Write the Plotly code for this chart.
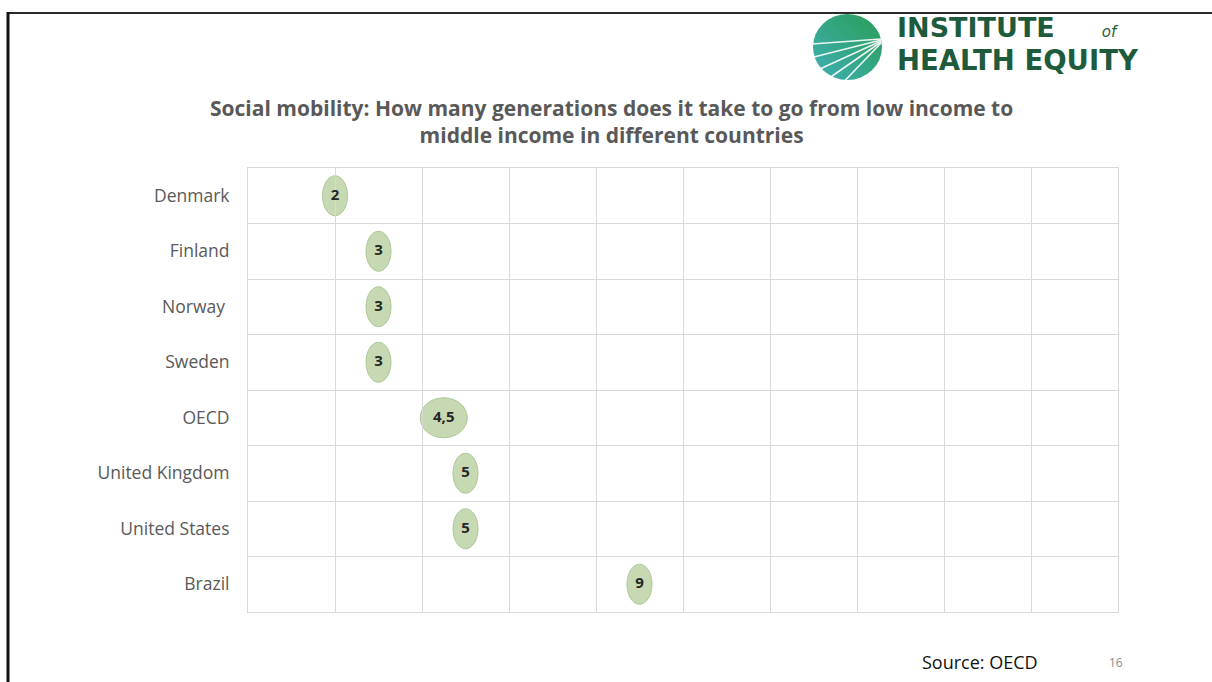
import base64
import plotly.graph_objects as go

# Generations needed to move from low to middle income
countries = ["Denmark", "Finland", "Norway ", "Sweden", "OECD",
             "United Kingdom", "United States", "Brazil"]
generations = [2, 3, 3, 3, 4.5, 5, 5, 9]
x_ticks = [0, 2, 4, 6, 8, 10, 12, 14, 16, 18, 20]

W, H = 1212, 682
L, R, T, B = 248, 94, 168, 70
PW, PH = W - L - R, H - T - B
FONT = "Open Sans"


def px(x):
    return (x - L) / PW


def py(y):
    return (H - B - y) / PH


def fmt(v):
    return f"{v:g}".replace(".", ",")


labels = [fmt(v) for v in generations]

fig = go.Figure()

fig.add_trace(go.Scatter(
    x=generations, y=countries, mode="text", text=labels,
    textfont=dict(family=FONT, size=15, color="#262626", weight="bold"),
    textposition="middle center", hoverinfo="skip", showlegend=False,
))

# Oval bubbles behind each value label, sized in pixels around the data point
shapes = []
for i, (v, lab) in enumerate(zip(generations, labels)):
    half_w = 12.5 + 5.5 * (len(lab) - 1)
    shapes.append(dict(
        type="circle", layer="below",
        xref="x", yref="y", xsizemode="pixel", ysizemode="pixel",
        xanchor=v, yanchor=i,
        x0=-half_w, x1=half_w, y0=-20, y1=20,
        fillcolor="#c6d9b3", line=dict(color="#aec799", width=1),
    ))

# Slide frame: top rule and left edge
shapes.append(dict(type="line", xref="paper", yref="paper",
                   x0=px(7), x1=px(W), y0=py(13), y1=py(13),
                   line=dict(color="#2b2b2b", width=2)))
shapes.append(dict(type="line", xref="paper", yref="paper",
                   x0=px(8), x1=px(8), y0=py(12), y1=py(H + 2),
                   line=dict(color="#111111", width=3)))

# Logo emblem as an inline SVG
svg = """<svg xmlns='http://www.w3.org/2000/svg' width='72' height='68' viewBox='0 0 72 68'>
<defs><linearGradient id='g' x1='0' y1='1' x2='1' y2='0'>
<stop offset='0' stop-color='#3fb0b6'/><stop offset='1' stop-color='#2a9d55'/>
</linearGradient></defs>
<ellipse cx='36' cy='34' rx='35' ry='33' fill='url(#g)'/>
<g stroke='white' stroke-width='1.6' fill='none' opacity='0.9'>
<line x1='70' y1='26' x2='0' y2='31'/>
<line x1='70' y1='27' x2='2' y2='44'/>
<line x1='70' y1='28' x2='8' y2='56'/>
<line x1='70' y1='29' x2='19' y2='64'/>
<line x1='70' y1='30' x2='33' y2='68'/>
</g></svg>"""
src = "data:image/svg+xml;base64," + base64.b64encode(svg.encode()).decode()

logo_green = "#1e5b3d"
logo_top = ("INSTITUTE" + "\u00a0" * 5 +
            "<span style='font-size:15px;font-weight:normal'><i>of</i></span>")

annotations = [
    dict(text="Social mobility: How many generations does it take to go from low income to<br>middle income in different countries",
         xref="paper", yref="paper", x=px(611), y=py(121), xanchor="center", yanchor="middle",
         showarrow=False, align="center",
         font=dict(family=FONT, size=21, color="#595959", weight="bold")),
    dict(text="Source: OECD", xref="paper", yref="paper", x=px(920), y=py(662),
         xanchor="left", yanchor="middle", showarrow=False,
         font=dict(family=FONT, size=18, color="#111111")),
    dict(text="16", xref="paper", yref="paper", x=px(1116), y=py(662),
         xanchor="center", yanchor="middle", showarrow=False,
         font=dict(family=FONT, size=12, color="#8c8c8c")),
    dict(text=logo_top, xref="paper", yref="paper", x=px(896), y=py(28),
         xanchor="left", yanchor="middle", showarrow=False, borderpad=0,
         font=dict(family="DejaVu Sans", size=27, color=logo_green, weight="bold")),
    dict(text="HEALTH EQUITY", xref="paper", yref="paper", x=px(896), y=py(60),
         xanchor="left", yanchor="middle", showarrow=False, borderpad=0,
         font=dict(family="DejaVu Sans", size=27.5, color=logo_green, weight="bold")),
]

fig.update_layout(
    width=W, height=H,
    margin=dict(l=L, r=R, t=T, b=B, pad=0),
    paper_bgcolor="white", plot_bgcolor="white",
    shapes=shapes, annotations=annotations,
    images=[dict(source=src, xref="paper", yref="paper",
                 x=px(812), y=py(13), sizex=71 / PW, sizey=68 / PH,
                 xanchor="left", yanchor="top", sizing="stretch", layer="above")],
    xaxis=dict(range=[x_ticks[0], x_ticks[-1]], tickvals=x_ticks, showticklabels=False,
               showgrid=True, gridcolor="#d9d9d9", gridwidth=1, zeroline=False,
               showline=True, mirror=True, linecolor="#d9d9d9", linewidth=1, ticks=""),
    yaxis=dict(type="category", categoryorder="array", categoryarray=countries,
               range=[len(countries) - 0.5, -0.5], tickson="boundaries", showgrid=True,
               gridcolor="#d9d9d9", gridwidth=1, zeroline=False, ticks="",
               showline=True, mirror=True, linecolor="#d9d9d9", linewidth=1,
               ticklabelstandoff=14,
               tickfont=dict(family=FONT, size=17.5, color="#595959")),
)

fig.write_html("out.html")
